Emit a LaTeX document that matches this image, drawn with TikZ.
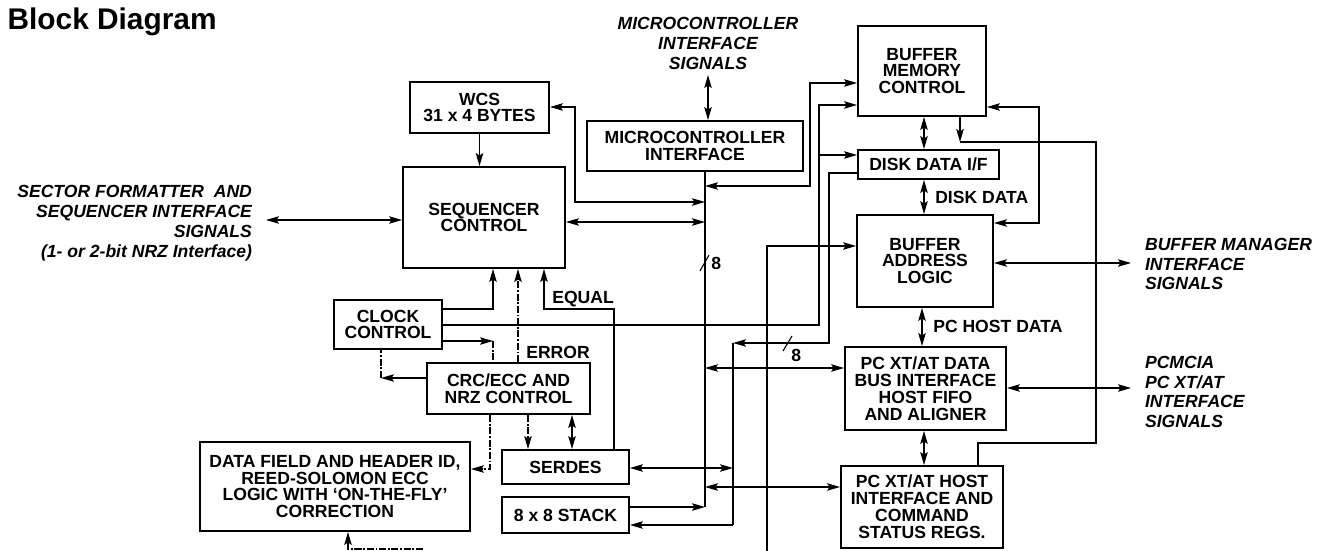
\documentclass[tikz,border=0pt]{standalone}
\usepackage{fontspec}
\setmainfont{Liberation Sans}
\usetikzlibrary{positioning,arrows.meta}

\begin{document}
\begin{tikzpicture}[
  x=0.02cm, y=-0.02cm,
  line width=0.6pt,
  font=\fontsize{10}{9.6}\selectfont\bfseries,
  >={Stealth[length=2.6mm,width=1.5mm,inset=0.5mm]},
  blk/.style={rectangle, draw=black, line width=1.1pt, inner sep=2pt, align=center},
  sig/.style={font=\fontsize{10}{11.3}\selectfont\bfseries\itshape, inner sep=1pt, outer xsep=7pt, outer ysep=2pt},
  tag/.style={inner sep=1pt, anchor=west},
  dd/.style={dash pattern=on 4pt off 1pt on 1pt off 1pt}
]
\useasboundingbox (0,0) rectangle (1319,551);

% title
\node[anchor=west, inner sep=0pt, font=\fontsize{17}{17}\selectfont\bfseries] (title) at (7,22) {Block Diagram};

% blocks, left half
\node[blk, minimum width=2.78cm, minimum height=1.02cm] (wcs) at (479.5,107.5) {WCS\\31 x 4 BYTES};
\node[blk, minimum width=3.24cm, minimum height=2.02cm] (seq) at (484,217.5) {SEQUENCER\\CONTROL};
\node[blk, minimum width=4.32cm, minimum height=1.0cm] (mci) at (695,146) {MICROCONTROLLER\\INTERFACE};
\node[blk, minimum width=2.16cm, minimum height=0.98cm] (clk) at (388,324.5) {CLOCK\\CONTROL};
\node[blk, minimum width=3.26cm, minimum height=1.02cm] (crc) at (508.5,388.5) {CRC/ECC AND\\NRZ CONTROL};
\node[blk, minimum width=5.4cm, minimum height=1.78cm] (dfh) at (335,486.5) {DATA FIELD AND HEADER ID,\\REED-SOLOMON ECC\\LOGIC WITH ‘ON-THE-FLY’\\CORRECTION};
\node[blk, minimum width=2.54cm, minimum height=0.68cm] (ser) at (565.5,467) {SERDES};
\node[blk, minimum width=2.54cm, minimum height=0.72cm] (stk) at (565.5,515) {8 x 8 STACK};

% blocks, right half
\node[blk, minimum width=2.56cm, minimum height=1.8cm] (bmc) at (922,71) {BUFFER\\MEMORY\\CONTROL};
\node[blk, minimum width=2.82cm, minimum height=0.58cm] (ddi) at (928.5,164.5) {DISK DATA I/F};
\node[blk, minimum width=2.72cm, minimum height=1.84cm] (bal) at (925,261) {BUFFER\\ADDRESS\\LOGIC};
\node[blk, minimum width=3.22cm, minimum height=1.66cm] (pcd) at (925.5,388.5) {PC XT/AT DATA\\BUS INTERFACE\\HOST FIFO\\AND ALIGNER};
\node[blk, minimum width=3.24cm, minimum height=1.64cm] (pch) at (922,507) {PC XT/AT HOST\\INTERFACE AND\\COMMAND\\STATUS REGS.};

% outside signals
\node[sig, anchor=east, align=right] (sfs) at (266,223) {SECTOR FORMATTER\ \ AND\\SEQUENCER INTERFACE\\SIGNALS\\(1- or 2-bit NRZ Interface)};
\node[sig, anchor=south, align=center] (mcis) at (708,75) {MICROCONTROLLER\\INTERFACE\\SIGNALS};
\node[sig, anchor=west, align=left] (bms) at (1131,264) {BUFFER MANAGER\\INTERFACE\\SIGNALS};
\node[sig, anchor=west, align=left] (pcm) at (1131,392) {PCMCIA\\PC XT/AT\\INTERFACE\\SIGNALS};

% inner labels
\node[tag] (lerr) at (524,352) {ERROR};
\node[tag] (lequ) at (550,299) {EQUAL};
\node[tag] (ldd) at (933,197) {DISK DATA};
\node[tag] (lphd) at (931,326) {PC HOST DATA};

% bus ends and corners
\coordinate (bus1) at (705,507);
\coordinate (bus2) at (733,525);
\coordinate (ck) at (493,341);
\coordinate (cc) at (381,378);
\coordinate (bm) at (960,142);
\coordinate (low1) at (767,551);
\coordinate (low2) at (423,549);

% microcontroller bus
\draw (mci.south -| bus1) -- (bus1);
\draw (700,271) -- (709,255);
\node[tag] (n8a) at (709,263) {8};
\draw[<->] (mcis.south) -- (mcis.south |- mci.north);
\draw[<->] (wcs.east |- 0,107) -- (575,107) -- (575,202) -- (bus1 |- 0,202);
\draw[<->] (seq.east |- 0,222) -- (bus1 |- 0,222);
\draw[<->] (bus1 |- 0,186) -| (810,83) -- (bmc.west |- 0,83);
\draw[<->] (bus1 |- 0,368) -- (pcd.west |- 0,368);
\draw[<->] (bus1 |- 0,487) -- (pch.west |- 0,487);
\draw[->] (stk.east |- bus1) -- (bus1);

% disk data bus
\draw[->] (ddi.west |- 0,173) -| (829,343) -- (bus2 |- 0,343);
\draw (783,351) -- (792,336);
\node[tag] (n8b) at (789,355) {8};
\draw (bus2 |- 0,343) -- (bus2);
\draw[->] (bus2) -- (stk.east |- bus2);
\draw[<->] (ser.east |- 0,468) -- (bus2 |- 0,468);
\draw[->] (low1) |- (bal.west |- 0,246);

% sequencer side
\draw[<->] (sfs.east |- 0,220) -- (seq.west |- 0,220);
\draw[->] (wcs.south) -- (wcs.south |- seq.north);
\draw[->] (clk.east |- 0,309) -| (seq.south -| 493,0);
\draw[->] (clk.east |- 0,341) -- (ck);
\draw[dd] (ck) -- (crc.north -| ck);
\draw[->] (clk.east |- 0,325) -| (819,105) -- (bmc.west |- 0,105);
\draw[->] (819,155) -- (ddi.west |- 0,155);
\draw[->, dd] (crc.north -| 518,0) -- (seq.south -| 518,0);
\draw[->] (ser.north -| 614,0) |- (544,309) -- (seq.south -| 544,0);
\draw[->] (crc.west |- cc) -- (cc);
\draw[dd] (cc) -- (clk.south -| cc);
\draw[->, dd] (crc.south -| 490,0) |- (dfh.east |- 0,469);
\draw[->, dd] (low2) -| (dfh.south -| 348,0);
\draw[->, dd] (crc.south -| 528,0) -- (ser.north -| 528,0);
\draw[<->] (crc.south -| 572,0) -- (ser.north -| 572,0);

% buffer side
\draw[<->] (bmc.south -| 924,0) -- (ddi.north -| 924,0);
\draw[<->] (ddi.south -| 924,0) -- (bal.north -| 924,0);
\draw[<->] (bal.south -| 922,0) -- (pcd.north -| 922,0);
\draw[<->] (pcd.south -| 924,0) -- (pch.north -| 924,0);
\draw[->] (bmc.south -| bm) -- (bm);
\draw (bm) -| (1096,443) -| (pch.north -| 978,0);
\draw[<->] (bmc.east |- 0,107) -| (1039,223) -- (bal.east |- 0,223);
\draw[<->] (bal.east |- 0,263) -- (bms.west |- 0,263);
\draw[<->] (pcd.east |- 0,388) -- (pcm.west |- 0,388);
\end{tikzpicture}
\end{document}
